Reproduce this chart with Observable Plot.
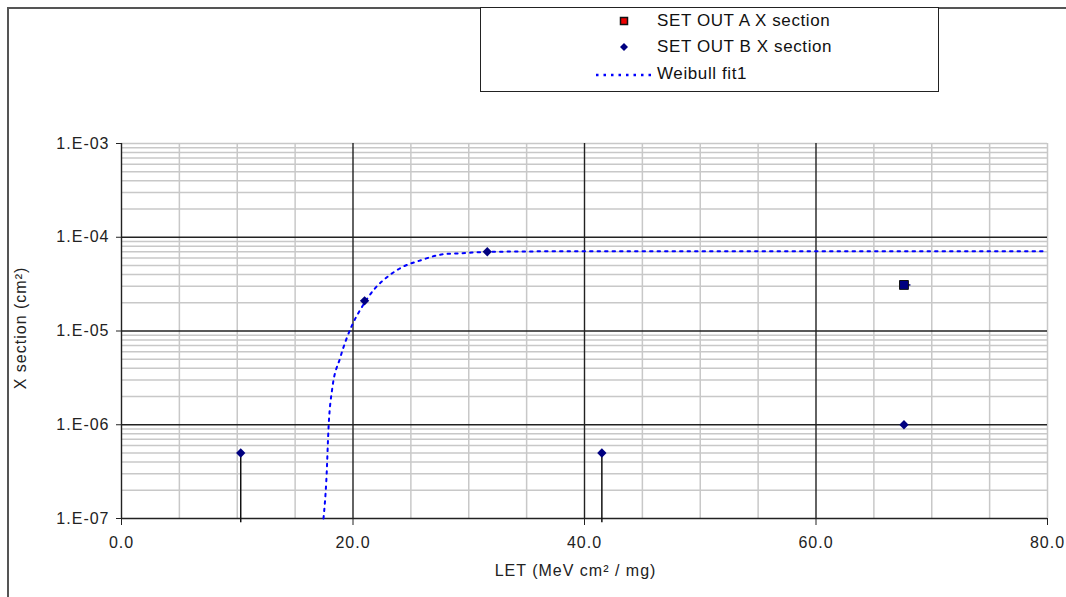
<!DOCTYPE html>
<html>
<head>
<meta charset="utf-8">
<script src="https://cdn.jsdelivr.net/npm/d3@7"></script>
<script src="https://cdn.jsdelivr.net/npm/@observablehq/plot@0.6"></script>
<style>
  html, body { margin: 0; padding: 0; background: #fff; }
  #wrap { position: relative; width: 1066px; height: 597px; overflow: hidden; font-family: "Liberation Sans", Arial, sans-serif; }
  #frame { position: absolute; left: 7px; top: 7px; width: 1100px; height: 700px; border-left: 2px solid #555; border-top: 2px solid #555; box-sizing: border-box; }
  #legend { position: absolute; left: 480px; top: 7px; width: 459px; height: 85px; border: 1.5px solid #222; box-sizing: border-box; background: #fff; font-size: 17px; letter-spacing: 0.6px; color: #111; }
  .item { position: absolute; left: 0; height: 20px; line-height: 20px; }
  .item span { position: absolute; left: 176px; white-space: nowrap; }
  .item svg { position: absolute; top: 0; }
  #chart svg text { letter-spacing: 1px; }
</style>
</head>
<body>
<div id="wrap">
  <div id="frame"></div>
  <div id="chart"></div>
  <div id="legend">
    <div class="item" style="top:3px"><svg style="left:136px" width="14" height="20"><rect x="3.5" y="6.5" width="7" height="7" fill="#e00" stroke="#111" stroke-width="1.5"/></svg><span>SET OUT A X section</span></div>
    <div class="item" style="top:29px"><svg style="left:136px" width="14" height="20"><path d="M7,6 L11,10 L7,14 L3,10 Z" fill="#000080"/></svg><span>SET OUT B X section</span></div>
    <div class="item" style="top:56px"><svg style="left:113px" width="60" height="20"><line x1="2" y1="11" x2="58" y2="11" stroke="#0000ff" stroke-width="2.5" stroke-dasharray="2.5,5"/></svg><span>Weibull fit1</span></div>
  </div>
</div>
<script>
// Data
const setA_LET = [67.6];
const setA_XS  = [3.1e-5];
const setB_LET = [10.3, 21.0, 31.6, 41.5, 67.6];
const setB_XS  = [5e-7, 2.1e-5, 7.0e-5, 5e-7, 1e-6];
const setB_isLimit = [true, false, false, true, false]; // upper-limit points with stems down

const fitLET = [17.45, 17.7, 17.9, 18.2, 18.9, 19.9, 20.65, 21.85, 23.0, 24.25, 25.7, 27.85, 29.3, 32, 40, 60, 80];
const fitXS  = [1e-7, 2.6e-7, 1e-6, 2.4e-6, 5.2e-6, 1.14e-5, 1.7e-5, 2.8e-5, 3.8e-5, 4.8e-5, 5.6e-5, 6.6e-5, 6.75e-5, 7.0e-5, 7.1e-5, 7.1e-5, 7.1e-5];

const xTicks = [0, 20, 40, 60, 80];
const xMajorGrid = [20, 40, 60];
const xMinorGrid = [5, 10, 15, 25, 30, 35, 45, 50, 55, 65, 70, 75, 80];
const yDecades = [1e-7, 1e-6, 1e-5, 1e-4, 1e-3];
const xLabel = "LET (MeV cm² / mg)";
const yLabel = "X section (cm²)";

const yMinorGrid = [];
for (let e = -7; e < -3; e++) for (let m = 2; m <= 9; m++) yMinorGrid.push(m * Math.pow(10, e));
yMinorGrid.push(1e-3);

const A = setA_LET.map((x, i) => ({x, y: setA_XS[i]}));
const B = setB_LET.map((x, i) => ({x, y: setB_XS[i], lim: setB_isLimit[i]}));
const fit = fitLET.map((x, i) => ({x, y: fitXS[i]}));

const fmtY = d => "1.E-" + String(Math.round(-Math.log10(d))).padStart(2, "0");

const chart = Plot.plot({
  width: 1066,
  height: 597,
  marginLeft: 121,
  marginRight: 19,
  marginTop: 143,
  marginBottom: 79,
  x: {domain: [0, 80]},
  y: {type: "log", domain: [1e-7, 1e-3]},
  style: {fontFamily: "'Liberation Sans', Arial, sans-serif", fontSize: "16px", color: "#222", background: "transparent", overflow: "visible"},
  marks: [
    Plot.ruleY(yMinorGrid, {stroke: "#c8c8c8", strokeWidth: 1.5}),
    Plot.ruleX(xMinorGrid, {stroke: "#c8c8c8", strokeWidth: 1.5}),
    Plot.ruleY(yDecades.slice(0, 4), {stroke: "#222", strokeWidth: 1.4}),
    Plot.ruleX(xMajorGrid, {y1: 1e-3, y2: 1e-7, stroke: "#222", strokeWidth: 1.4}),
    Plot.ruleX([0], {stroke: "#222", strokeWidth: 1.4}),
    Plot.axisY({ticks: yDecades, tickFormat: fmtY, tickSize: 5, tickPadding: 7, fontSize: 16, label: null}),
    Plot.axisX({ticks: xTicks, tickFormat: d => d.toFixed(1), tickSize: 7, tickPadding: 11, fontSize: 16, label: null}),
    Plot.text([xLabel], {text: d => d, frameAnchor: "bottom", dy: 57, dx: -9, fontSize: 16, fill: "#222"}),
    Plot.text([yLabel], {text: d => d, frameAnchor: "left", textAnchor: "middle", dx: -101, dy: -3, rotate: -90, fontSize: 16, fill: "#222"}),
    Plot.line(fit, {x: "x", y: "y", stroke: "#0000ff", strokeWidth: 2, strokeDasharray: "2.5,5", curve: "monotone-x"}),
    Plot.ruleX(B.filter(d => d.lim), {x: "x", y1: "y", y2: 9e-8, stroke: "#111", strokeWidth: 1.5}),
    Plot.ruleY(A, {y: "y", x1: "x", x2: d => d.x + 0.6, stroke: "#000080", strokeWidth: 1.5}),
    Plot.dot(A, {x: "x", y: "y", symbol: "square", r: 5, fill: "#000080", stroke: "#111", strokeWidth: 1}),
    Plot.dot(B, {x: "x", y: "y", symbol: "diamond2", r: 4.2, fill: "#000080"})
  ]
});
chart.style.position = "absolute";
chart.style.left = "0px";
chart.style.top = "0px";
document.getElementById("chart").appendChild(chart);
</script>
</body>
</html>
